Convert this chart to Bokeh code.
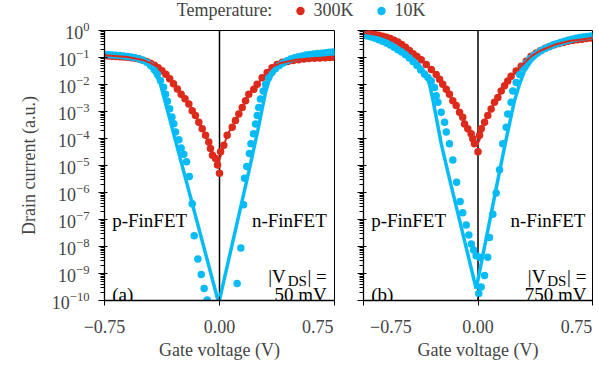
import json
from bokeh.plotting import figure
from bokeh.layouts import row, column
from bokeh.models import (Range1d, FixedTicker, CustomJSTickFormatter, Span, Label,
                          Legend, LegendItem, LinearAxis)
from bokeh.embed import file_html
from bokeh.resources import INLINE

RED = "#DD2A1B"
BLUE = "#06BBF6"
FONT = "Liberation Serif"

# ---------------- data (gate voltage in V, log10 of drain current in a.u.) ----------------
# Panel (a): |V_DS| = 50 mV
a_red_v = [-0.750, -0.725, -0.700, -0.675, -0.650, -0.625, -0.600, -0.575, -0.550, -0.525,
           -0.500, -0.475, -0.450, -0.425, -0.400, -0.375, -0.350, -0.325, -0.300, -0.275,
           -0.250, -0.225, -0.200, -0.178, -0.157, -0.135, -0.113, -0.091, -0.070, -0.059,
           -0.046, -0.026, -0.013, 0.000, 0.007, 0.028, 0.050, 0.083, 0.104, 0.126,
           0.148, 0.170, 0.191, 0.224, 0.246, 0.278, 0.311, 0.343, 0.376, 0.410,
           0.445, 0.480, 0.515, 0.550, 0.585, 0.620, 0.655, 0.690, 0.720, 0.750]
a_red_log = [-0.93, -0.94, -0.95, -0.96, -0.97, -0.98, -0.99, -1.01, -1.03, -1.06,
             -1.10, -1.15, -1.21, -1.29, -1.38, -1.49, -1.62, -1.79, -1.97, -2.17,
             -2.36, -2.53, -2.72, -2.97, -3.15, -3.40, -3.64, -3.88, -4.13, -4.37,
             -4.62, -4.74, -4.98, -5.29, -4.49, -4.25, -3.88, -3.58, -3.33, -3.09,
             -2.85, -2.60, -2.36, -2.18, -1.99, -1.75, -1.56, -1.38, -1.26, -1.18,
             -1.15, -1.11, -1.08, -1.06, -1.04, -1.03, -1.02, -1.01, -1.00, -1.00]
a_blue_v = [-0.750, -0.725, -0.700, -0.675, -0.650, -0.625, -0.600, -0.575, -0.550, -0.525,
            -0.500, -0.475, -0.450, -0.425, -0.405, -0.385, -0.365, -0.352, -0.340, -0.325,
            -0.310, -0.298, -0.287, -0.265, -0.250, -0.233, -0.215, -0.197, -0.178, -0.165,
            -0.141, -0.119, -0.100, -0.080, 0.115, 0.139, 0.157, 0.163, 0.178, 0.195,
            0.205, 0.222, 0.235, 0.246, 0.256, 0.267, 0.285, 0.300, 0.320, 0.343,
            0.365, 0.390, 0.415, 0.440, 0.465, 0.490, 0.515, 0.540, 0.565, 0.590,
            0.615, 0.640, 0.665, 0.690, 0.715, 0.740]
a_blue_log = [-0.89, -0.90, -0.91, -0.92, -0.93, -0.94, -0.96, -0.98, -1.01, -1.05,
              -1.10, -1.18, -1.29, -1.45, -1.62, -1.85, -2.10, -2.36, -2.62, -2.90,
              -3.20, -3.45, -3.76, -4.05, -4.35, -4.58, -4.86, -5.41, -6.42, -7.60,
              -8.46, -9.04, -9.56, -9.98, -9.37, -8.06, -6.45, -5.47, -5.04, -4.56,
              -4.19, -3.82, -3.46, -3.15, -2.85, -2.54, -2.24, -1.99, -1.75, -1.56,
              -1.42, -1.30, -1.20, -1.12, -1.06, -1.01, -0.97, -0.94, -0.91, -0.89,
              -0.87, -0.85, -0.84, -0.82, -0.81, -0.80]
a_red_fit_v = [-0.75, -0.60, -0.50, -0.45, -0.40, -0.35, -0.30, -0.25, -0.20, -0.15, -0.10,
               -0.05, -0.01, 0.01, 0.05, 0.10, 0.15, 0.20, 0.25, 0.30, 0.35, 0.40, 0.50,
               0.60, 0.75]
a_red_fit_log = [-0.92, -0.98, -1.09, -1.20, -1.37, -1.62, -1.97, -2.36, -2.72, -3.22, -3.76,
                 -4.45, -4.95, -4.60, -3.88, -3.37, -2.83, -2.30, -1.97, -1.62, -1.33, -1.20,
                 -1.08, -1.03, -0.99]
a_blue_fit_v = [-0.75, -0.65, -0.58, -0.52, -0.47, -0.43, -0.405, -0.385, -0.005, 0.191,
                0.25, 0.28, 0.30, 0.32, 0.35, 0.40, 0.46, 0.55, 0.65, 0.75]
a_blue_fit_log = [-0.88, -0.92, -0.97, -1.07, -1.24, -1.50, -1.75, -1.98, -10.10, -5.23,
                  -3.70, -2.85, -2.30, -1.90, -1.55, -1.28, -1.10, -0.97, -0.87, -0.80]

# Panel (b): |V_DS| = 750 mV
b_red_v = [-0.750, -0.725, -0.700, -0.675, -0.650, -0.625, -0.600, -0.575, -0.550, -0.525,
           -0.500, -0.475, -0.450, -0.425, -0.400, -0.372, -0.339, -0.306, -0.274, -0.252,
           -0.231, -0.208, -0.187, -0.165, -0.143, -0.121, -0.100, -0.088, -0.067, -0.045,
           -0.034, -0.023, 0.000, 0.010, 0.021, 0.043, 0.064, 0.086, 0.108, 0.130,
           0.152, 0.174, 0.195, 0.217, 0.250, 0.283, 0.316, 0.348, 0.381, 0.410,
           0.440, 0.470, 0.500, 0.530, 0.560, 0.590, 0.620, 0.650, 0.680, 0.710, 0.740]
b_red_log = [-0.08, -0.10, -0.12, -0.15, -0.18, -0.21, -0.25, -0.30, -0.36, -0.43,
             -0.52, -0.62, -0.74, -0.86, -0.96, -1.08, -1.26, -1.44, -1.63, -1.81,
             -1.99, -2.18, -2.36, -2.60, -2.78, -3.03, -3.21, -3.46, -3.64, -3.82,
             -4.01, -4.19, -4.49, -3.88, -3.64, -3.40, -3.15, -2.91, -2.66, -2.48,
             -2.24, -2.05, -1.87, -1.69, -1.50, -1.32, -1.14, -0.95, -0.83, -0.74,
             -0.66, -0.59, -0.53, -0.48, -0.44, -0.40, -0.37, -0.34, -0.32, -0.30, -0.28]
b_blue_v = [-0.750, -0.725, -0.700, -0.675, -0.650, -0.625, -0.600, -0.575, -0.550, -0.525,
            -0.500, -0.475, -0.450, -0.425, -0.400, -0.375, -0.350, -0.328, -0.306, -0.285,
            -0.274, -0.263, -0.241, -0.219, -0.208, -0.187, -0.165, -0.140, -0.117, -0.100,
            -0.077, -0.060, -0.044, -0.029, -0.012, 0.005, 0.010, 0.021, 0.043, 0.064,
            0.075, 0.097, 0.119, 0.141, 0.162, 0.185, 0.195, 0.217, 0.228, 0.250,
            0.272, 0.293, 0.316, 0.340, 0.365, 0.390, 0.415, 0.440, 0.465, 0.490,
            0.515, 0.540, 0.565, 0.590, 0.615, 0.640, 0.665, 0.690, 0.715, 0.740]
b_blue_log = [-0.17, -0.20, -0.24, -0.29, -0.34, -0.40, -0.46, -0.54, -0.62, -0.71,
              -0.80, -0.90, -1.02, -1.15, -1.30, -1.46, -1.62, -1.74, -1.87, -2.11,
              -2.42, -2.66, -3.03, -3.40, -3.76, -4.19, -4.80, -5.62, -6.33, -6.75,
              -7.20, -7.57, -7.91, -8.13, -8.34, -9.74, -8.40, -9.50, -9.07, -8.40,
              -7.67, -6.81, -6.02, -5.16, -4.19, -3.58, -3.09, -2.66, -2.24, -1.93,
              -1.63, -1.38, -1.20, -1.05, -0.93, -0.83, -0.74, -0.67, -0.60, -0.54,
              -0.49, -0.44, -0.40, -0.36, -0.32, -0.29, -0.26, -0.24, -0.22, -0.20]
b_red_fit_v = [-0.75, -0.65, -0.55, -0.50, -0.45, -0.40, -0.35, -0.30, -0.25, -0.20, -0.15,
               -0.10, -0.05, -0.01, 0.01, 0.05, 0.10, 0.15, 0.20, 0.25, 0.30, 0.35, 0.40,
               0.50, 0.60, 0.75]
b_red_fit_log = [-0.08, -0.18, -0.36, -0.52, -0.74, -0.96, -1.20, -1.48, -1.83, -2.25, -2.70,
                 -3.21, -3.80, -4.30, -4.05, -3.28, -2.77, -2.26, -1.85, -1.50, -1.22, -0.95,
                 -0.77, -0.53, -0.39, -0.28]
b_blue_fit_v = [-0.75, -0.65, -0.58, -0.52, -0.47, -0.416, -0.383, -0.339, -0.318, -0.296,
                -0.274, -0.241, -0.198, -0.012, 0.141, 0.174, 0.206, 0.239, 0.272, 0.305,
                0.348, 0.392, 0.443, 0.53, 0.62, 0.75]
b_blue_fit_log = [-0.16, -0.33, -0.50, -0.70, -0.88, -1.12, -1.30, -1.63, -1.99, -2.55,
                  -3.20, -4.19, -5.23, -9.56, -5.23, -4.31, -3.46, -2.60, -1.99, -1.50,
                  -1.14, -0.89, -0.65, -0.45, -0.33, -0.21]

x_ticks = [-0.75, 0.0, 0.75]
x_tick_labels = ["\u22120.75", "0.00", "0.75"]
# where each tick label's centre sits (edge labels are pulled inside their panel)
a_label_pos = [-0.75, 0.0, 0.641]
b_label_pos = [-0.571, 0.0, 0.646]
decades = list(range(-10, 1))
series_labels = ["300K", "10K"]
legend_title = "Temperature:"


def lin(logs):
    return [10.0 ** v for v in logs]


major_y = [10.0 ** d for d in decades]
minor_y = [k * 10.0 ** d for d in decades[:-1] for k in range(2, 10)]

TOP_H = 21


def make_panel(left, right, fw, label_pos, red_v, red_log, blue_v, blue_log,
               rf_v, rf_log, bf_v, bf_log, first):
    p = figure(frame_width=fw, frame_height=270, x_range=Range1d(-0.75, 0.75),
               y_range=Range1d(1e-10, 1.0), y_axis_type="log",
               output_backend="svg", toolbar_location=None,
               min_border_left=left, min_border_right=right,
               min_border_top=9, min_border_bottom=60,
               background_fill_color="white", border_fill_color="white")
    p.xgrid.visible = False
    p.ygrid.visible = False
    p.outline_line_color = "black"
    p.outline_line_width = 1
    p.outline_line_alpha = 1

    p.add_layout(Span(location=0, dimension="height", line_color="black",
                      line_width=1.5, level="underlay"))

    p.scatter(red_v, lin(red_log), size=7.5, fill_color=RED, line_color=None)
    p.scatter(blue_v, lin(blue_log), size=7.5, fill_color=BLUE, line_color=None)
    p.line(bf_v, lin(bf_log), line_color=BLUE, line_width=3.5)
    p.line(rf_v, lin(rf_log), line_color=RED, line_width=2)

    # x axis: tick marks only
    xa = p.xaxis[0]
    xa.ticker = FixedTicker(ticks=x_ticks, minor_ticks=[])
    xa.formatter = CustomJSTickFormatter(code="return '';")
    xa.major_label_text_font_size = "0px"
    xa.major_label_standoff = 0
    xa.major_tick_in = 4
    xa.major_tick_out = 5
    xa.axis_line_width = 1.3

    # second axis below carrying the tick labels and the axis title
    lab = {str(pos): t for pos, t in zip(label_pos, x_tick_labels)}
    lab["0"] = x_tick_labels[1]
    ax2 = LinearAxis(ticker=FixedTicker(ticks=label_pos, minor_ticks=[]),
                     formatter=CustomJSTickFormatter(
                         code="const m = " + json.dumps(lab) + "; const k = String(tick); "
                              "return (k in m) ? m[k] : '';"),
                     axis_line_color=None, major_tick_line_color=None,
                     minor_tick_line_color=None, major_tick_in=0, major_tick_out=0,
                     minor_tick_in=0, minor_tick_out=0,
                     major_label_text_font=FONT, major_label_text_font_size="18px",
                     major_label_standoff=14,
                     axis_label="Gate voltage (V)", axis_label_text_font=FONT,
                     axis_label_text_font_size="18px", axis_label_text_font_style="normal",
                     axis_label_standoff=4)
    p.add_layout(ax2, "below")

    # y axis
    ya = p.yaxis[0]
    ya.ticker = FixedTicker(ticks=major_y, minor_ticks=minor_y)
    ya.major_tick_in = 3
    ya.major_tick_out = 6
    ya.minor_tick_in = 0
    ya.minor_tick_out = 4
    ya.axis_line_width = 1.3
    ya.major_label_text_font = FONT
    ya.major_label_text_font_size = "18px"
    if first:
        ya.axis_label = "Drain current (a.u.)"
        ya.axis_label_text_font = FONT
        ya.axis_label_text_font_size = "18px"
        ya.axis_label_text_font_style = "normal"
        ya.axis_label_standoff = 10
        ya.major_label_standoff = 9
    else:
        ya.formatter = CustomJSTickFormatter(code="return '';")
        ya.major_label_standoff = 0
    return p


def txt(p, x, y, s, align, size="19px", xo=0, yo=0):
    p.add_layout(Label(x=x, y=y, text=s, text_align=align, text_baseline="alphabetic",
                       text_font=FONT, text_font_size=size, text_color="black",
                       x_offset=xo, y_offset=yo))


def vds(p, x, y, val):
    txt(p, x, y, "| =", "right")
    txt(p, x, y, "DS", "right", size="15px", xo=-20, yo=-5)
    txt(p, x, y, "|V", "right", xo=-41)
    txt(p, x, 10 ** -9.78, val, "right")


pa = make_panel(104, 14, 230, a_label_pos, a_red_v, a_red_log, a_blue_v, a_blue_log,
                a_red_fit_v, a_red_fit_log, a_blue_fit_v, a_blue_fit_log, True)
pb = make_panel(15, 4, 229, b_label_pos, b_red_v, b_red_log, b_blue_v, b_blue_log,
                b_red_fit_v, b_red_fit_log, b_blue_fit_v, b_blue_fit_log, False)

# in-panel annotations
txt(pa, -0.70, 10 ** -7.04, "p-FinFET", "left")
txt(pa, 0.70, 10 ** -7.04, "n-FinFET", "right")
txt(pa, -0.70, 10 ** -9.78, "(a)", "left")
vds(pa, 0.70, 10 ** -9.1, "50 mV")

txt(pb, -0.70, 10 ** -7.04, "p-FinFET", "left")
txt(pb, 0.704, 10 ** -7.04, "n-FinFET", "right")
txt(pb, -0.70, 10 ** -9.78, "(b)", "left")
vds(pb, 0.71, 10 ** -9.1, "750 mV")

# legend strip on top
top = figure(width=596, height=TOP_H, x_range=Range1d(0, 1), y_range=Range1d(0, 1),
             x_axis_type=None, y_axis_type=None, output_backend="svg",
             toolbar_location=None, min_border=0, outline_line_color=None)
top.xgrid.visible = False
top.ygrid.visible = False
nan = float("nan")
key_none = top.scatter(x=[nan], y=[nan], fill_alpha=0, line_alpha=0)
key_red = top.scatter(x=[nan], y=[nan], fill_color=RED, line_color=None)
key_blue = top.scatter(x=[nan], y=[nan], fill_color=BLUE, line_color=None)
lg = Legend(items=[LegendItem(label=legend_title, renderers=[key_none]),
                   LegendItem(label=series_labels[0], renderers=[key_red]),
                   LegendItem(label=series_labels[1], renderers=[key_blue])],
            location=(152.7, 0), orientation="horizontal", glyph_width=22, glyph_height=21,
            label_height=21, label_standoff=2, padding=0, margin=0, spacing=17,
            border_line_color=None, background_fill_alpha=0, label_text_font=FONT,
            label_text_font_size="18px")
top.add_layout(lg)

layout = column(top, row(pa, pb))
open("out.html", "w").write(file_html(layout, INLINE))
